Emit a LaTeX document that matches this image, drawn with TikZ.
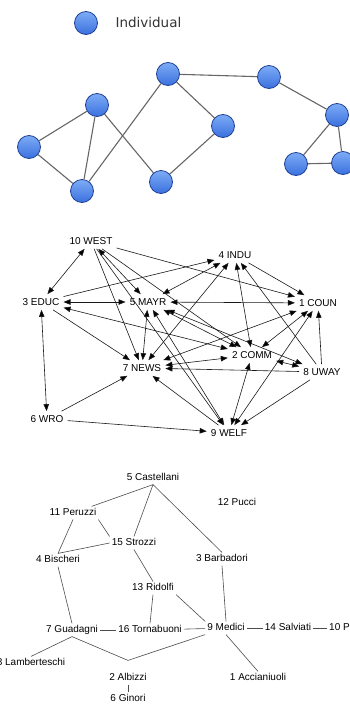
\documentclass[tikz,border=0pt]{standalone}
\usepackage{fontspec}
\setmainfont{Liberation Sans}
\newfontfamily\legendfont{DejaVu Sans}
\usepackage{tikz}
\usetikzlibrary{arrows.meta}

\definecolor{balllight}{RGB}{125,172,246}
\definecolor{balldark}{RGB}{58,112,222}
\definecolor{balledge}{RGB}{32,64,150}

\begin{document}
\begin{tikzpicture}[x=1pt,y=-1pt,
    >={Triangle[length=7pt,width=5.5pt]},
    person/.style={circle,minimum size=23pt,inner sep=0pt,draw=balledge,line width=0.8pt,top color=balllight,bottom color=balldark},
    tie/.style={draw=black!60,line width=1.1pt},
    org/.style={font=\fontsize{10}{12}\selectfont,inner sep=4pt,text height=7.3pt,text depth=0pt},
    info/.style={draw=black!90,line width=0.6pt},
    family/.style={font=\fontsize{10}{12}\selectfont,inner sep=2pt,text height=7.3pt,text depth=1.5pt},
    marriage/.style={draw=black!70,line width=0.6pt}]
  \useasboundingbox (0,0) rectangle (350,704);
  \clip (0,0) rectangle (350,704);

  \node[person] (key) at (86,23) {};
  \node[anchor=west,font=\legendfont\fontsize{13.5}{16}\selectfont,text=black!80] (keytext) at (112,22) {Individual};

  \node[person] (p1) at (168,74) {};
  \node[person] (p2) at (269,77) {};
  \node[person] (p3) at (97,105) {};
  \node[person] (p4) at (223,126) {};
  \node[person] (p5) at (337,115) {};
  \node[person] (p6) at (29,147) {};
  \node[person] (p7) at (161,182) {};
  \node[person] (p8) at (82,191) {};
  \node[person] (p9) at (296,164) {};
  \node[person] (p10) at (343,163) {};
  \path[tie] (p1) edge (p2) edge (p4) edge (p8)
    (p2) edge (p5)
    (p4) edge (p7)
    (p3) edge (p6) edge (p8) edge (p7)
    (p6) edge (p8)
    (p5) edge (p9) edge (p10)
    (p9) edge (p10);

  \node[org] (west) at (91,241) {10 WEST};
  \node[org] (educ) at (41,302) {3 EDUC};
  \node[org] (mayr) at (148,302) {5 MAYR};
  \node[org] (indu) at (235,255) {4 INDU};
  \node[org] (coun) at (318,303) {1 COUN};
  \node[org] (comm) at (252,355) {2 COMM};
  \node[org] (news) at (142,368) {7 NEWS};
  \node[org] (uway) at (322,372) {8 UWAY};
  \node[org] (wro) at (47,419) {6 WRO};
  \node[org] (welf) at (229,433) {9 WELF};
  \path[info,<->] (west) edge (educ) edge (mayr)
    (educ) edge (mayr) edge (comm) edge (wro)
    (mayr) edge (indu) edge (coun) edge (comm) edge (news) edge (uway) edge (welf)
    (indu) edge (comm) edge (news)
    (coun) edge (comm) edge (news) edge (welf)
    (comm) edge (news) edge (uway) edge (welf);
  \path[info,->] (west) edge (news) edge (coun) edge (comm) edge (welf)
    (educ) edge (indu) edge (news)
    (wro) edge (news) edge (welf)
    (indu) edge (coun)
    (uway) edge (indu) edge (coun) edge (news) edge (welf)
    (welf) edge (news);

  \node[family] (castellani) at (153,478) {5 Castellani};
  \node[family] (pucci) at (237,503) {12 Pucci};
  \node[family] (peruzzi) at (73,513) {11 Peruzzi};
  \node[family] (strozzi) at (134,543) {15 Strozzi};
  \node[family] (bischeri) at (58,560) {4 Bischeri};
  \node[family] (barbadori) at (222,559) {3 Barbadori};
  \node[family] (ridolfi) at (153,588) {13 Ridolfi};
  \node[family] (guadagni) at (72,630) {7 Guadagni};
  \node[family] (tornabuoni) at (150,630) {16 Tornabuoni};
  \node[family] (medici) at (226,628) {9 Medici};
  \node[family] (salviati) at (288,628) {14 Salviati};
  \node[family,anchor=west] (pazzi) at (327,628) {10 Pazzi};
  \node[family] (lamberteschi) at (31,663) {8 Lamberteschi};
  \node[family] (albizzi) at (128,678) {2 Albizzi};
  \node[family] (ginori) at (128,699) {6 Ginori};
  \node[family] (acciaiuoli) at (258,678) {1 Accianiuoli};
  \path[marriage] (castellani.south) edge (peruzzi) edge (strozzi.north) edge (barbadori.north)
    (peruzzi.south east) edge (strozzi.north west)
    (peruzzi.south) edge (bischeri.north)
    (bischeri.north) edge (strozzi.west)
    (strozzi.south) edge (ridolfi.north)
    (ridolfi.south) edge (tornabuoni.north)
    (ridolfi.south east) edge (medici.north west)
    (barbadori.south) edge (medici.north)
    (bischeri.south) edge (guadagni.north)
    (guadagni) edge (tornabuoni)
    (tornabuoni) edge (medici)
    (medici) edge (salviati)
    (salviati) edge (pazzi)
    (medici.south) edge (acciaiuoli.north)
    (medici.south west) edge ([yshift=11pt]albizzi.north)
    (guadagni.south) edge ([yshift=11pt]albizzi.north)
    (guadagni.south) edge (lamberteschi.north)
    (albizzi.south) edge (ginori.north);
\end{tikzpicture}
\end{document}
